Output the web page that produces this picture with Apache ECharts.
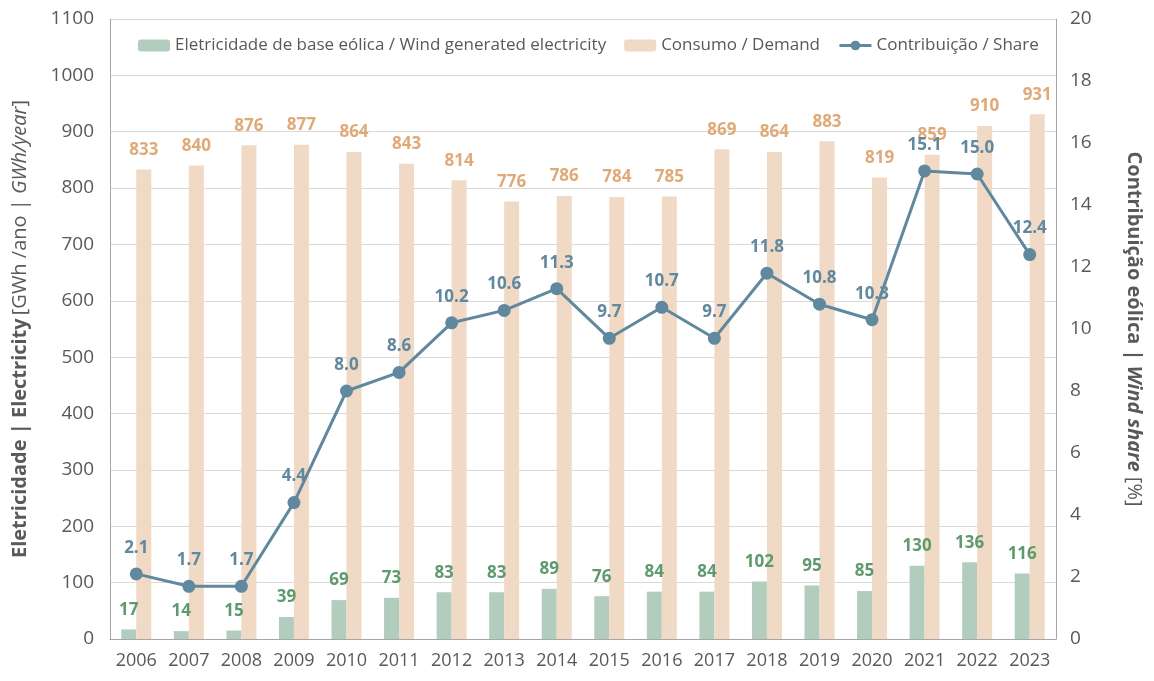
<!DOCTYPE html>
<html>
<head>
<meta charset="utf-8">
<script src="https://cdn.jsdelivr.net/npm/echarts@6/dist/echarts.min.js"></script>
<style>html,body{margin:0;padding:0;background:#fff}#main{width:1154px;height:681px}</style>
</head>
<body>
<div id="main"></div>
<script>
var years = ['2006','2007','2008','2009','2010','2011','2012','2013','2014','2015','2016','2017','2018','2019','2020','2021','2022','2023'];
var windGen = [17, 14, 15, 39, 69, 73, 83, 83, 89, 76, 84, 84, 102, 95, 85, 130, 136, 116];
var demand = [833, 840, 876, 877, 864, 843, 814, 776, 786, 784, 785, 869, 864, 883, 819, 859, 910, 931];
var share = [2.1, 1.7, 1.7, 4.4, 8.0, 8.6, 10.2, 10.6, 11.3, 9.7, 10.7, 9.7, 11.8, 10.8, 10.3, 15.1, 15.0, 12.4];

var font = 'Open Sans';
var grey = '#595959';
var myChart = echarts.init(document.getElementById('main'));
var option = {
    animation: false,
    textStyle: { fontFamily: font },
    legend: {
        left: 133, top: 32,
        itemWidth: 32, itemHeight: 12, itemGap: 18,
        textStyle: { fontSize: 17, color: grey, fontFamily: font },
        data: [
            { name: 'Eletricidade de base eólica / Wind generated electricity', itemStyle: { color: '#b2cdbd' } },
            { name: 'Consumo / Demand', itemStyle: { color: '#f0dac6' } },
            { name: 'Contribuição / Share', lineStyle: { width: 3 } }
        ]
    },
    grid: { left: 110, right: 98, top: 19, bottom: 42 },
    xAxis: {
        type: 'category',
        data: years,
        axisLine: { lineStyle: { color: '#a6a6a6' } },
        axisTick: { lineStyle: { color: '#a6a6a6' }, length: 6 },
        axisLabel: { color: grey, fontSize: 18, margin: 13, interval: 0, fontFamily: font }
    },
    yAxis: [
        {
            type: 'value', min: 0, max: 1100, interval: 100,
            name: '{b|Eletricidade | Electricity} {n|[GWh /ano | }{i|GWh/year}{n|]}',
            nameLocation: 'middle', nameGap: 80,
            nameTextStyle: {
                rich: {
                    b: { fontSize: 20, fontWeight: 'bold', color: grey, fontFamily: font },
                    n: { fontSize: 20, color: grey, fontFamily: font },
                    i: { fontSize: 20, fontStyle: 'italic', color: grey, fontFamily: font }
                }
            },
            axisLine: { show: true, lineStyle: { color: '#a6a6a6' } },
            axisLabel: { color: grey, fontSize: 19, margin: 16, fontFamily: font, formatter: function (v) { return String(v); } },
            splitLine: { lineStyle: { color: '#d9d9d9' } }
        },
        {
            type: 'value', min: 0, max: 20, interval: 2,
            name: '{b|Contribuição eólica | }{i|Wind share}{n| [%]}',
            nameLocation: 'middle', nameGap: 68, nameRotate: -90,
            nameTextStyle: {
                rich: {
                    b: { fontSize: 20, fontWeight: 'bold', color: grey, fontFamily: font },
                    n: { fontSize: 20, color: grey, fontFamily: font },
                    i: { fontSize: 20, fontStyle: 'italic', fontWeight: 'bold', color: grey, fontFamily: font }
                }
            },
            axisLine: { show: true, lineStyle: { color: '#a6a6a6' } },
            axisLabel: { color: grey, fontSize: 19, margin: 14, fontFamily: font },
            splitLine: { show: false }
        }
    ],
    series: [
        {
            name: 'Eletricidade de base eólica / Wind generated electricity',
            type: 'bar', data: windGen, barWidth: 15, barGap: '0%',
            itemStyle: { color: '#b2cdbd' },
            label: { show: true, position: 'top', distance: 11, color: '#5e9a6e', fontSize: 17, fontWeight: 'bold', fontFamily: font }
        },
        {
            name: 'Consumo / Demand',
            type: 'bar', data: demand, barWidth: 15, barGap: '0%',
            itemStyle: { color: '#f0dac6' },
            label: { show: true, position: 'top', distance: 11, color: '#e0aa78', fontSize: 17, fontWeight: 'bold', fontFamily: font }
        },
        {
            name: 'Contribuição / Share',
            type: 'line', yAxisIndex: 1, data: share,
            symbol: 'circle', symbolSize: 13,
            lineStyle: { color: '#60889e', width: 3 },
            itemStyle: { color: '#60889e' },
            label: {
                show: true, position: 'top', distance: 11, color: '#60889e', fontSize: 17, fontWeight: 'bold', fontFamily: font,
                formatter: function (p) { return p.value.toFixed(1); }
            },
            z: 5
        }
    ]
};
myChart.setOption(option);
</script>
</body>
</html>
